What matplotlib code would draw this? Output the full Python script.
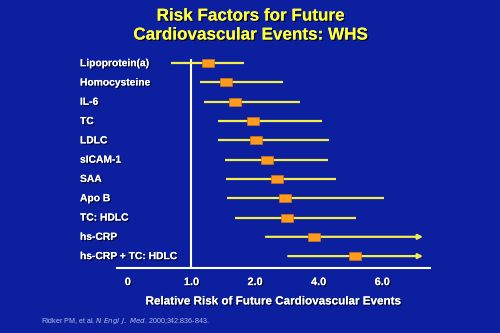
import numpy as np
import matplotlib
matplotlib.use("Agg")
import matplotlib.pyplot as plt
import matplotlib.patheffects as pe
import matplotlib.transforms as mtransforms
from matplotlib.path import Path

# ---------------- data ----------------
factors = ["Lipoprotein(a)", "Homocysteine", "IL-6", "TC", "LDLC", "sICAM-1",
           "SAA", "Apo B", "TC: HDLC", "hs-CRP", "hs-CRP + TC: HDLC"]
rr_point = [1.26, 1.54, 1.68, 1.96, 2.03, 2.37, 2.70, 2.94, 3.00, 3.85, 5.14]
rr_low = [0.68, 1.14, 1.19, 1.41, 1.41, 1.52, 1.54, 1.56, 1.68, 2.34, 3.04]
rr_high = [1.83, 2.89, 3.42, 4.09, 4.31, 4.29, 4.54, 6.06, 5.16, 7.28, 7.28]
open_ended = [False, False, False, False, False, False, False, False, False, True, True]
tick_values = [0, 1, 2, 4, 6]
tick_labels = ["0", "1.0", "2.0", "4.0", "6.0"]

# axis breakpoints: ticks equally spaced on the page
scale_rr = [-1, 0, 1, 2, 4, 6, 10]
scale_pos = [-1, 0, 1, 2, 3, 4, 6]

def fwd(v):
    return np.interp(v, scale_rr, scale_pos)

def inv(u):
    return np.interp(u, scale_pos, scale_rr)

BG = "#0b1f9f"
YEL = "#f2ee4e"
ORG = "#ff9b1f"
WHITE = "white"

fig = plt.figure(figsize=(5.0, 3.33), dpi=100, facecolor=BG)
ax = fig.add_axes([0.234, 0.195, 0.626, 0.628])
ax.set_facecolor(BG)
ax.set_xscale("function", functions=(fwd, inv))
ax.set_xlim(-0.17, 7.5)
n = len(factors)
ax.set_ylim(n - 1 + 0.62, -0.22)

shadow = [pe.withSimplePatchShadow(offset=(1, -1), shadow_rgbFace="black", alpha=0.7), pe.Normal()]

# reference line
ax.axvline(1.0, color=WHITE, lw=1.5, zorder=1)

# box marker (wider than tall)
box = Path([(-1, -0.72), (1, -0.72), (1, 0.72), (-1, 0.72), (-1, -0.72)],
           [Path.MOVETO, Path.LINETO, Path.LINETO, Path.LINETO, Path.CLOSEPOLY])

for i in range(n):
    if open_ended[i]:
        ax.annotate("", xy=(rr_high[i], i), xytext=(rr_low[i], i),
                    arrowprops=dict(arrowstyle="-|>", color=YEL, lw=1.6,
                                    mutation_scale=7, shrinkA=0, shrinkB=0),
                    zorder=2)
    else:
        ax.plot([rr_low[i], rr_high[i]], [i, i], color=YEL, lw=1.6,
                solid_capstyle="butt", zorder=2)
ax.plot(rr_point, range(n), linestyle="none", marker=box, markersize=8.0,
        markerfacecolor=ORG, markeredgecolor="#d07010", markeredgewidth=0.5, zorder=3)

# labels
trans = mtransforms.blended_transform_factory(fig.transFigure, ax.transData)
for i, f in enumerate(factors):
    ax.text(80 / 500, i, f, transform=trans, ha="left", va="center",
            color=WHITE, fontsize=7.4, fontweight="bold",
            family="Liberation Sans", path_effects=shadow)

# axes styling
for s in ["top", "right", "left"]:
    ax.spines[s].set_visible(False)
ax.spines["bottom"].set_color(WHITE)
ax.spines["bottom"].set_linewidth(1.5)
ax.set_yticks([])
ax.set_xticks(tick_values)
ax.set_xticklabels(tick_labels, color=WHITE, fontsize=7.8, fontweight="bold",
                   family="Liberation Sans")
for t in ax.get_xticklabels():
    t.set_path_effects(shadow)
ax.tick_params(axis="x", length=0, pad=6.5)
ax.minorticks_off()
ax.set_xlabel("Relative Risk of Future Cardiovascular Events", color=WHITE,
              fontsize=8.4, fontweight="bold", family="Liberation Sans",
              labelpad=6, path_effects=shadow)

# title
fig.text(0.502, 1 - 16 / 333, "Risk Factors for Future", ha="center", va="center",
         color="#ffff3a", fontsize=12.3, fontweight="bold", family="Liberation Sans",
         path_effects=shadow)
fig.text(0.502, 1 - 35 / 333, "Cardiovascular Events: WHS", ha="center", va="center",
         color="#ffff3a", fontsize=12.3, fontweight="bold", family="Liberation Sans",
         path_effects=shadow)

# citation
fig.text(41 / 500, 1 - 321 / 333,
         r"Ridker PM, et al. $\it{N\ Engl\ J.\ Med}$. 2000;342:836-843.",
         ha="left", va="center", color="#b4bce0", fontsize=5.1,
         family="Liberation Sans")

fig.savefig("out.png", dpi=100, facecolor=BG)
